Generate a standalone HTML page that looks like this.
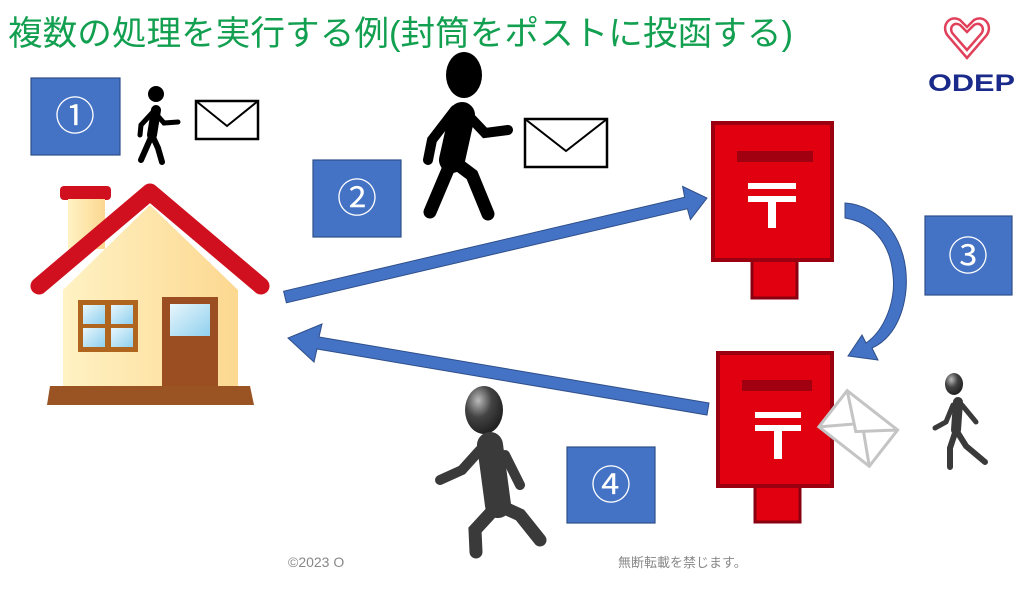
<!DOCTYPE html>
<html><head><meta charset="utf-8"><style>
body{margin:0;background:#fff;width:1024px;height:590px;overflow:hidden}
svg{display:block}
</style></head><body>
<svg width="1024" height="590" viewBox="0 0 1024 590" xmlns="http://www.w3.org/2000/svg">
<defs>
<linearGradient id="wall" x1="0" x2="1"><stop offset="0" stop-color="#fff2c4"/><stop offset="1" stop-color="#fcd890"/></linearGradient>
<linearGradient id="gl" x1="0" y1="0" x2="1" y2="1"><stop offset="0" stop-color="#e8f6fc"/><stop offset="1" stop-color="#8fd0ee"/></linearGradient>
<radialGradient id="hd" cx="0.35" cy="0.3" r="0.7"><stop offset="0" stop-color="#bbb"/><stop offset="0.5" stop-color="#444"/><stop offset="1" stop-color="#222"/></radialGradient>
</defs>
<text x="8" y="45" font-family="'Liberation Sans','Noto Sans CJK JP',sans-serif" font-size="34" fill="#12a050" textLength="785" lengthAdjust="spacingAndGlyphs">複数の処理を実行する例(封筒をポストに投函する)</text>
<!-- logo -->
<g fill="none" stroke="#e0405a" stroke-width="2.5">
<path d="M967 58 L948 36 C940 26 950 14 960 20 L967 27 L974 20 C984 14 994 26 986 36 Z"/>
<path d="M967 50 L953 34 C948 28 954 21 960 25 L967 32 L974 25 C980 21 986 28 981 34 Z"/>
</g>
<text x="928" y="91" font-family="'Liberation Sans',sans-serif" font-weight="bold" font-size="24" fill="#1a2a8a" textLength="87" lengthAdjust="spacingAndGlyphs">ODEP</text>
<!-- boxes -->
<g fill="#4472c4" stroke="#2f4f8a" stroke-width="1.2">
<rect x="31" y="78" width="89" height="77"/><rect x="313" y="160" width="88" height="77"/>
<rect x="925" y="216" width="87" height="79"/><rect x="567" y="447" width="88" height="76"/>
</g>
<g font-family="'Liberation Sans','Noto Sans CJK JP',sans-serif" font-size="40" fill="#fff" text-anchor="middle">
<text x="75" y="130">①</text><text x="357" y="212">②</text><text x="968" y="270">③</text><text x="611" y="499">④</text>
</g>
<!-- small walker black -->
<g stroke="#000" stroke-linecap="round" fill="none">
<circle cx="156" cy="94" r="8" fill="#000" stroke="none"/>
<path d="M156 110 L152 135" stroke-width="10"/>
<path d="M153 112 L141 125 L140 135" stroke-width="5"/>
<path d="M157 115 L164 123 L178 122" stroke-width="5"/>
<path d="M152 135 L141 160 M152 135 L158 148 L162 162" stroke-width="6"/>
</g>
<rect x="196" y="101" width="62" height="38" fill="#fff" stroke="#000" stroke-width="2.5"/>
<path d="M196 101 L227 126 L258 101" fill="none" stroke="#000" stroke-width="2"/>
<!-- big walker -->
<g stroke="#000" stroke-linecap="round" fill="none">
<ellipse cx="464" cy="75" rx="18" ry="23" fill="#000" stroke="none"/>
<path d="M462 115 L452 160" stroke-width="26"/>
<path d="M455 110 L432 140 L428 160" stroke-width="10"/>
<path d="M468 115 L485 133 L508 130" stroke-width="10"/>
<path d="M452 160 L430 212 M452 160 L472 175 L488 214" stroke-width="13"/>
</g>
<rect x="525" y="119" width="82" height="48" fill="#fff" stroke="#000" stroke-width="2.5"/>
<path d="M525 119 L566 151 L607 119" fill="none" stroke="#000" stroke-width="2"/>
<!-- house -->
<rect x="60" y="186" width="51" height="14" rx="4" fill="#d0101e"/>
<rect x="68" y="199" width="37" height="50" fill="url(#wall)"/>
<path d="M63 290 L150 205 L238 290 L238 386 L63 386 Z" fill="url(#wall)"/>
<path d="M39 286 L150 192 L261 286" fill="none" stroke="#d0101e" stroke-width="17" stroke-linecap="round" stroke-linejoin="round"/>
<rect x="78" y="300" width="60" height="52" fill="#b0651e"/>
<rect x="83" y="305" width="22" height="19" fill="url(#gl)"/><rect x="111" y="305" width="22" height="19" fill="url(#gl)"/>
<rect x="83" y="328" width="22" height="19" fill="url(#gl)"/><rect x="111" y="328" width="22" height="19" fill="url(#gl)"/>
<rect x="162" y="297" width="56" height="89" fill="#9a4e22"/>
<rect x="170" y="304" width="40" height="32" fill="url(#gl)"/>
<path d="M50 386 L250 386 L254 405 L47 405 Z" fill="#9a5424"/>
<!-- arrows -->
<path d="M283.6 291.2 L684.6 197.2 L682.6 186.4 L707 198 L690.4 219.6 L687.4 208.8 L286.4 302.8 Z" fill="#4472c4" stroke="#2f4f8a" stroke-width="1"/>
<path d="M709 403 L319 337 L322 324 L288 338 L314 362 L317 349 L707 415 Z" fill="#4472c4" stroke="#2f4f8a" stroke-width="1"/>
<path d="M845 203 C880 205 910 240 906 290 C903 320 890 340 872 348 L878 360 L848 356 L862 335 L866 343 C885 330 896 300 893 275 C890 240 870 222 845 218 Z" fill="#4472c4" stroke="#2f4f8a" stroke-width="1"/>
<!-- postboxes -->
<g>
<rect x="752" y="258" width="45" height="40" fill="#e00010" stroke="#8a0010" stroke-width="3"/>
<rect x="713" y="123" width="119" height="137" fill="#e00010" stroke="#9a0010" stroke-width="4"/>
<rect x="737" y="151" width="76" height="11" fill="#a00010"/>
<rect x="748" y="183" width="48" height="6" fill="#fff"/><rect x="748" y="196" width="48" height="6" fill="#fff"/><rect x="768" y="200" width="8" height="28" fill="#fff"/>
</g>
<g>
<rect x="755" y="485" width="45" height="37" fill="#e00010" stroke="#8a0010" stroke-width="3"/>
<rect x="718" y="353" width="114" height="133" fill="#e00010" stroke="#9a0010" stroke-width="4"/>
<rect x="742" y="380" width="70" height="11" fill="#a00010"/>
<rect x="755" y="412" width="46" height="6" fill="#fff"/><rect x="755" y="425" width="46" height="6" fill="#fff"/><rect x="774" y="429" width="8" height="30" fill="#fff"/>
</g>
<!-- grey envelope -->
<g transform="rotate(38 857 430)">
<rect x="825" y="405" width="64" height="46" fill="#fff" stroke="#c4c4c4" stroke-width="3"/>
<path d="M825 405 L857 432 L889 405 M825 451 L850 428 M889 451 L864 428" fill="none" stroke="#c4c4c4" stroke-width="3"/>
</g>
<!-- small grey walker -->
<g stroke="#3a3a3a" stroke-linecap="round" fill="none">
<ellipse cx="954" cy="384" rx="9" ry="11" fill="url(#hd)" stroke="none"/>
<path d="M958 402 L956 430" stroke-width="10"/>
<path d="M953 405 L946 422 L935 428" stroke-width="5"/>
<path d="M962 405 L976 422" stroke-width="5"/>
<path d="M956 430 L950 448 L950 467 M956 430 L966 446 L985 462" stroke-width="6"/>
</g>
<!-- big grey walker -->
<g stroke="#3a3a3a" stroke-linecap="round" fill="none">
<ellipse cx="484" cy="410" rx="19" ry="24" fill="url(#hd)" stroke="none"/>
<path d="M490 445 L498 505" stroke-width="26"/>
<path d="M480 450 L462 470 L440 480" stroke-width="10"/>
<path d="M505 455 L520 485" stroke-width="10"/>
<path d="M498 505 L475 530 L476 552 M498 505 L520 515 L540 540" stroke-width="13"/>
</g>
<!-- footer -->
<g font-family="'Liberation Sans','Noto Sans CJK JP',sans-serif" font-size="14" fill="#888">
<text x="288" y="567">©2023  O</text>
<text x="618" y="567" font-size="13">無断転載を禁じます。</text>
</g>
</svg>
</body></html>
